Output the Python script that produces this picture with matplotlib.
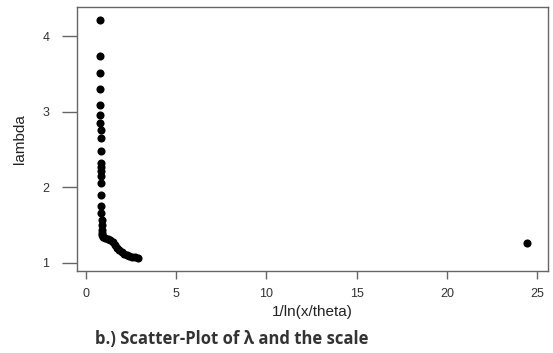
import matplotlib
matplotlib.use("Agg")
import matplotlib.pyplot as plt

# values
inv_log_x = [0.77, 0.78, 0.78, 0.79, 0.79, 0.80, 0.80, 0.81, 0.81, 0.82,
             0.82, 0.83, 0.83, 0.83, 0.84, 0.84, 0.85, 0.85, 0.86, 0.86,
             0.87, 0.88, 0.90, 0.94, 1.05, 1.22, 1.35, 1.49, 1.60, 1.71,
             1.85, 1.99, 2.10, 2.27, 2.40, 2.54, 2.70, 2.88, 24.45]
lam = [4.21, 3.74, 3.51, 3.30, 3.09, 2.95, 2.85, 2.75, 2.65, 2.48,
       2.32, 2.27, 2.21, 2.15, 2.05, 1.90, 1.75, 1.66, 1.56, 1.50,
       1.43, 1.39, 1.36, 1.34, 1.33, 1.32, 1.30, 1.27, 1.23, 1.20,
       1.17, 1.14, 1.12, 1.10, 1.09, 1.08, 1.07, 1.06, 1.26]

x_ticks = [0, 5, 10, 15, 20, 25]
y_ticks = [1, 2, 3, 4]

plt.rcParams["font.family"] = ["Liberation Sans", "DejaVu Sans"]

fig = plt.figure(figsize=(5.53, 3.53), dpi=100)
ax = fig.add_axes([0.1392, 0.2323, 0.8518, 0.7477])

ax.scatter(inv_log_x, lam, s=34, color="black", linewidths=0, zorder=3)

ax.set_xlim(-0.5, 25.61)
ax.set_ylim(0.89, 4.384)
ax.set_xticks(x_ticks)
ax.set_yticks(y_ticks)

for side in ax.spines.values():
    side.set_color("#666666")
    side.set_linewidth(1.0)
ax.tick_params(axis="x", direction="out", length=6, width=1.0,
               color="#666666", labelsize=9, labelcolor="#333333", pad=6)
ax.tick_params(axis="y", direction="out", length=11, width=1.0,
               color="#666666", labelsize=9, labelcolor="#333333", pad=9)

ax.set_xlabel("1/ln(x/theta)", fontsize=11, color="#222222", labelpad=4)
ax.set_ylabel("lambda", fontsize=11, color="#222222", labelpad=11)

fig.text(0.172, 0.025, "b.) Scatter-Plot of \u03bb and the scale",
         family=["Open Sans", "DejaVu Sans"], fontweight="bold",
         fontsize=12, color="#333333")

fig.savefig("out.png", dpi=100)
